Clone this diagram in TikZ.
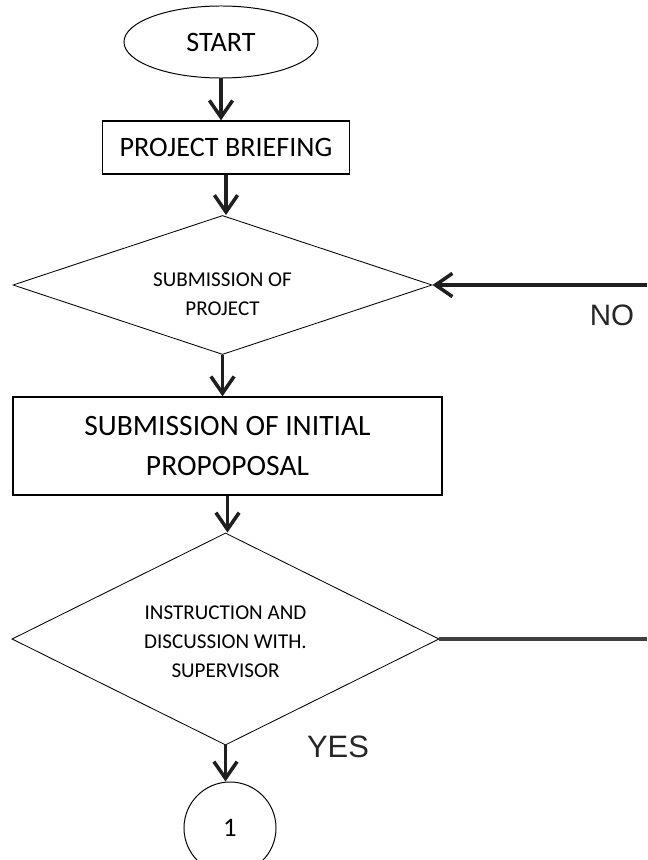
\documentclass[tikz,border=0pt]{standalone}
\usepackage{fontspec}
\setmainfont{Carlito}
\newfontfamily\arialfont{Liberation Sans}
\usetikzlibrary{arrows.meta,shapes.geometric}
\tikzset{
	flow/.style={line width=2.5pt, color=black!88, -{Straight Barb[length=4.2mm,width=5.8mm]}},
	procbox/.style={draw, line width=0.9pt, inner sep=0pt, align=center},
	decide/.style={draw, diamond, line width=0.6pt, inner sep=0pt, align=center, font=\fontsize{15}{20.6}\selectfont},
	answer/.style={font=\arialfont\fontsize{21}{24}\selectfont, color=black!85},
}

\begin{document}
\begin{tikzpicture}[x=0.025cm, y=-0.025cm]
	%%%%% START %%%%%
	\useasboundingbox (0,0) rectangle (647,860);
	
	\node[draw, ellipse, line width=0.7pt, minimum width=4.85cm, minimum height=1.8cm, font=\fontsize{20}{24}\selectfont] (start) at (221, 42) {START};
	
	\node[procbox, minimum width=6.175cm, minimum height=1.325cm, font=\fontsize{20}{24}\selectfont] (brief) at (226, 147.5) {PROJECT BRIEFING};
	
	\node[decide, aspect=3, minimum width=10.475cm, minimum height=3.475cm] (subproj) at (222.5, 285) {\rule{0pt}{23pt}SUBMISSION OF\\PROJECT};
	
	\node[procbox, minimum width=10.725cm, minimum height=2.45cm, font=\fontsize{21}{28.5}\selectfont] (initial) at (227.5, 446) {SUBMISSION OF INITIAL\\PROPOPOSAL};
	
	\node[decide, aspect=2, minimum width=10.675cm, minimum height=5.3cm] (superv) at (225.5, 639) {\rule{0pt}{14pt}INSTRUCTION AND\\DISCUSSION WITH.\\SUPERVISOR};
	
	\node[draw, circle, line width=0.7pt, minimum size=2.3cm, inner sep=0pt, font=\fontsize{19}{22}\selectfont] (conn) at (230, 828) {1};
	
	%% answers
	\node[answer] (no) at (612, 315) {NO};
	\node[answer, font=\arialfont\fontsize{22}{26}\selectfont] (yes) at (338, 747) {YES};
	
	\coordinate (noend) at (647, 285);
	\coordinate (loopend) at (647, 639);
	
	%% connectors
	\draw[flow] (start) -- (start |- brief.north);
	\draw[flow] (brief) -- (brief |- subproj.north);
	\draw[flow] (subproj) -- (subproj |- initial.north);
	\draw[flow] (initial) -- (initial |- superv.north);
	\draw[flow] (superv) -- (superv |- conn.north);
	\draw[flow] (noend) -- (subproj.east);
	\draw[line width=3pt, color=black!75] (superv.east) -- (loopend);
	%%%%% END %%%%%
\end{tikzpicture}
\end{document}
